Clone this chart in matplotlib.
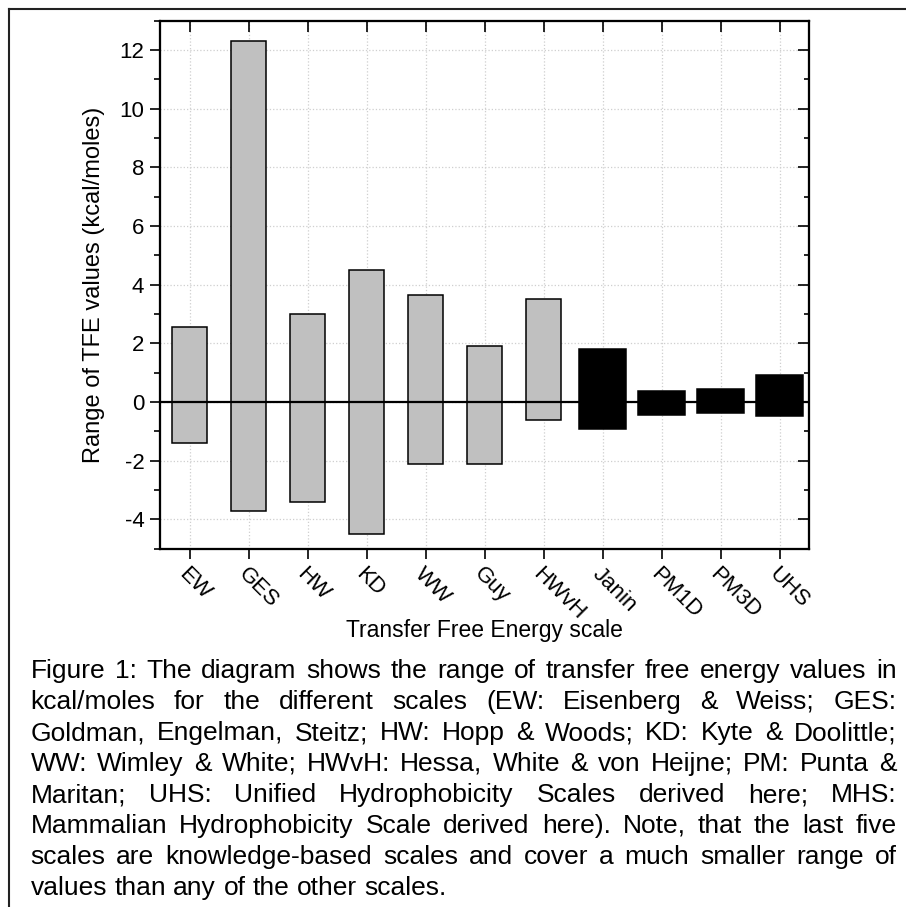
import numpy as np
import matplotlib
matplotlib.use("Agg")
import matplotlib.pyplot as plt
from matplotlib.ticker import MultipleLocator
from matplotlib.lines import Line2D

plt.rcParams['font.family'] = ['Liberation Sans', 'DejaVu Sans']
plt.rcParams['axes.unicode_minus'] = False

# TFE scales and the range (min, max) of their values in kcal/moles
scales = ['EW', 'GES', 'HW', 'KD', 'WW', 'Guy', 'HWvH', 'Janin', 'PM1D', 'PM3D', 'UHS']
tfe_max = [2.55, 12.32, 3.0, 4.5, 3.65, 1.92, 3.5, 1.81, 0.39, 0.43, 0.92]
tfe_min = [-1.38, -3.70, -3.40, -4.50, -2.10, -2.12, -0.60, -0.92, -0.43, -0.38, -0.48]
knowledge_based = [False, False, False, False, False, False, False, True, True, True, True]

caption_lines = [
    "Figure 1: The diagram shows the range of transfer free energy values in",
    "kcal/moles for the different scales (EW: Eisenberg & Weiss; GES:",
    "Goldman, Engelman, Steitz; HW: Hopp & Woods; KD: Kyte & Doolittle;",
    "WW: Wimley & White; HWvH: Hessa, White & von Heijne; PM: Punta &",
    "Maritan; UHS: Unified Hydrophobicity Scales derived here; MHS:",
    "Mammalian Hydrophobicity Scale derived here). Note, that the last five",
    "scales are knowledge-based scales and cover a much smaller range of",
    "values than any of the other scales.",
]

W, H = 906, 907
fig = plt.figure(figsize=(W / 100, H / 100), dpi=100)
ax = fig.add_axes([160.3 / W, 1 - 548.7 / H, (809 - 160.3) / W, (548.7 - 20.7) / H])

x = np.arange(1, len(scales) + 1)
lo = np.array(tfe_min)
hi = np.array(tfe_max)
colors = ['black' if k else '#c0c0c0' for k in knowledge_based]
widths = [0.8 if k else 0.6 for k in knowledge_based]
ax.bar(x, hi - lo, bottom=lo, width=widths, color=colors, edgecolor='black',
       linewidth=1.1, zorder=3)
ax.axhline(0, color='black', lw=1.6, zorder=4)

ax.set_xlim(0.5, len(scales) + 0.5)
ax.set_ylim(-5, 13)
ax.set_xticks(x)
ax.set_xticklabels(scales, rotation=-45, ha='left', va='top',
                   rotation_mode='anchor', fontsize=16)
ax.yaxis.set_major_locator(MultipleLocator(2))
ax.yaxis.set_minor_locator(MultipleLocator(1))
ax.tick_params(axis='both', which='major', direction='out', length=7.5, width=1.2,
               labelsize=16, pad=4)
ax.tick_params(axis='y', which='minor', direction='out', length=4.3, width=1.2)
ax.tick_params(axis='x', which='major', pad=3)

ax.grid(True, which='major', color='#cfcfcf', linestyle=':', linewidth=0.9)
ax.set_axisbelow(True)

# mirrored ticks pointing inwards on top and right
ax_r = ax.twinx()
ax_r.set_ylim(ax.get_ylim())
ax_r.yaxis.set_major_locator(MultipleLocator(2))
ax_r.yaxis.set_minor_locator(MultipleLocator(1))
ax_r.tick_params(which='major', direction='in', length=8, width=1.2, labelright=False)
ax_r.tick_params(which='minor', direction='in', length=3.5, width=1.2)
ax_t = ax.twiny()
ax_t.set_xlim(ax.get_xlim())
ax_t.set_xticks(x)
ax_t.tick_params(axis='x', direction='in', length=8, width=1.2, labeltop=False)
for a in [ax, ax_r, ax_t]:
    for sp in a.spines.values():
        sp.set_linewidth(1.5)

ax.set_ylabel('Range of TFE values (kcal/moles)', fontsize=17, va='center')
ax.yaxis.set_label_coords(-0.102, 0.5)
ax.set_xlabel('Transfer Free Energy scale', fontsize=16.5, va='center')
ax.xaxis.set_label_coords(0.5, -0.155)

# outer frame (left and top edge)
fig.add_artist(Line2D([9 / W, 9 / W], [0, 1 - 9 / H], color='#222222', lw=1.5))
fig.add_artist(Line2D([9 / W, 1], [1 - 9 / H, 1 - 9 / H], color='#222222', lw=1.5))

# justified caption
renderer = fig.canvas.get_renderer()


def text_width(s, fs):
    t = fig.text(0, 0, s, fontsize=fs)
    w = t.get_window_extent(renderer).width
    t.remove()
    return w


fs = 15 * 416 / text_width(caption_lines[-1], 15)
left, right = 30.5, 896.5
space = text_width('a a', fs) - text_width('aa', fs)
for i, line in enumerate(caption_lines):
    words = line.split(' ')
    ws = [text_width(w, fs) for w in words]
    if i < len(caption_lines) - 1:
        gap = (right - left - sum(ws)) / (len(words) - 1)
    else:
        gap = space
    xpos = left
    base = 678 + 31.0 * i
    for w, wd in zip(words, ws):
        fig.text(xpos / W, 1 - base / H, w, fontsize=fs, ha='left', va='baseline')
        xpos += wd + gap

fig.savefig('out.png', dpi=100)
